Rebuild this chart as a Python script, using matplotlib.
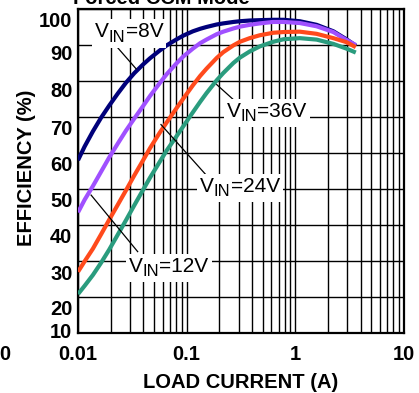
import numpy as np
import matplotlib
matplotlib.use("Agg")
import matplotlib.pyplot as plt
import matplotlib.transforms as mtransforms
from matplotlib.patches import Rectangle
from matplotlib.ticker import FixedLocator, NullFormatter

plt.rcParams["font.family"] = ["Liberation Sans", "DejaVu Sans"]

# load current (A) sample points
current = [0.01, 0.0115, 0.0137, 0.0163, 0.0194, 0.0232, 0.0276, 0.033, 0.0394,
           0.0459, 0.0561, 0.0655, 0.08, 0.093, 0.114, 0.133, 0.152, 0.189,
           0.217, 0.269, 0.309, 0.38, 0.47, 0.626, 0.78, 1.1, 1.57, 2.24,
           2.95, 3.6]

eff_8v = [58.0, 61.8, 66.0, 69.8, 73.2, 76.5, 79.5, 82.2, 84.5,
          86.3, 88.4, 89.9, 91.5, 92.6, 93.8, 94.5, 95.0, 95.7,
          96.0, 96.4, 96.6, 96.8, 96.9, 97.0, 97.0, 96.6, 95.6, 93.8,
          91.6, 89.8]
eff_12v = [43.5, 47.0, 50.8, 54.8, 58.8, 62.6, 66.2, 69.6, 72.9,
           75.8, 79.3, 81.9, 84.8, 86.8, 89.0, 90.5, 91.5, 93.0,
           93.7, 94.6, 95.1, 95.6, 96.0, 96.4, 96.4, 96.1, 95.2, 93.6,
           91.4, 90.0]
eff_24v = [27.0, 29.9, 33.4, 37.4, 41.5, 45.6, 49.6, 53.8, 57.8,
           61.3, 65.5, 68.5, 72.3, 75.1, 78.8, 81.4, 83.4, 86.4,
           88.0, 89.9, 90.9, 91.9, 92.7, 93.4, 93.6, 93.7, 93.1, 91.9,
           90.8, 89.4]
eff_36v = [20.8, 23.1, 26.1, 29.5, 33.2, 37.3, 41.3, 45.5, 49.6,
           53.1, 57.4, 60.7, 64.5, 67.4, 71.3, 74.2, 76.6, 80.2,
           82.2, 85.0, 86.5, 88.2, 89.6, 90.9, 91.6, 91.9, 91.5, 90.3,
           89.0, 87.9]

x_ticks = [0.01, 0.1, 1, 10]
x_labels = ["0.01", "0.1", "1", "10"]
y_grid = [10, 20, 30, 40, 50, 60, 70, 80, 90, 100]
y_labels = ["10", "20", "30", "40", "50", "60", "70", "80", "90", "100"]
# the labels in the original sit a little below their grid lines
y_label_pos = [10.6, 17.1, 26.8, 37.1, 47.2, 57.1, 67.2, 77.5, 87.9, 97.0]

fig = plt.figure(figsize=(4.19, 3.93), dpi=100)
ax = fig.add_axes([0.1862, 0.1527, 0.778, 0.8244])

line_kw = dict(lw=3.0, zorder=4, solid_joinstyle="round", solid_capstyle="butt")
ax.plot(current, eff_8v, color="#00007a", **line_kw)
ax.plot(current, eff_12v, color="#a050ff", **line_kw)
ax.plot(current, eff_24v, color="#ff4a1c", **line_kw)
ax.plot(current, eff_36v, color="#2a9c7e", **line_kw)

ax.set_xscale("log")
ax.set_xlim(0.01, 10)
ax.set_ylim(10, 100)

ax.set_xticks(x_ticks)
ax.set_xticklabels(x_labels)
ax.xaxis.set_minor_locator(FixedLocator(
    [m * 10.0 ** e for e in (-2, -1, 0) for m in range(2, 10)]))
ax.xaxis.set_minor_formatter(NullFormatter())
ax.set_yticks(y_label_pos)
ax.set_yticklabels(y_labels)
ax.yaxis.set_minor_locator(FixedLocator(y_grid))

ax.tick_params(which="both", length=0)
ax.tick_params(axis="x", pad=9, labelsize=14.5)
ax.tick_params(axis="y", pad=4, labelsize=14.5)
for lab in ax.get_xticklabels() + ax.get_yticklabels():
    lab.set_fontweight("bold")

ax.grid(True, axis="x", which="both", color="black", lw=1.0, zorder=1)
ax.grid(True, axis="y", which="minor", color="black", lw=1.0, zorder=1)
ax.grid(False, axis="y", which="major")
ax.set_axisbelow(True)
for s in ax.spines.values():
    s.set_linewidth(1.6)

ax.set_xlabel("LOAD CURRENT (A)", fontsize=14.5, fontweight="bold", labelpad=6)
ax.set_ylabel("EFFICIENCY (%)", fontsize=14.5, fontweight="bold")
ax.yaxis.set_label_coords(-0.128, 0.509)

fig.text(0.385, 0.99, "Forced CCM Mode", fontsize=14.5, fontweight="bold",
         ha="center", va="baseline")
fig.text(5 / 419, 1 - 355 / 393, "0", fontsize=14.5, fontweight="bold",
         ha="center", va="center")

renderer = fig.canvas.get_renderer()


def vin_label(x, y, volts, line_from, line_to):
    ax.plot([line_from[0], line_to[0]], [line_from[1], line_to[1]],
            color="black", lw=0.9, zorder=5)
    base = ax.transData
    t1 = ax.text(x, y, "V", fontsize=15, ha="left", va="baseline", zorder=7)
    w1 = t1.get_window_extent(renderer).width
    t2 = ax.text(x, y, "IN", fontsize=12, ha="left", va="baseline", zorder=7,
                 transform=mtransforms.offset_copy(base, fig=fig, x=w1, y=-4.5,
                                                   units="dots"))
    w2 = t2.get_window_extent(renderer).width
    t3 = ax.text(x, y, "=" + volts, fontsize=15, ha="left", va="baseline",
                 zorder=7,
                 transform=mtransforms.offset_copy(base, fig=fig, x=w1 + w2,
                                                   y=0, units="dots"))
    bb = mtransforms.Bbox.union([t.get_window_extent(renderer)
                                 for t in (t1, t2, t3)])
    pad = 3
    ax.add_patch(Rectangle((bb.x0 - pad, bb.y0 - pad), bb.width + 2 * pad,
                           bb.height + 2 * pad, facecolor="white",
                           edgecolor="none", zorder=6,
                           transform=mtransforms.IdentityTransform()))


vin_label(0.01434, 92.2, "8V", (0.0216, 90.3), (0.0342, 83.4))
vin_label(0.235, 70.1, "36V", (0.279, 74.4), (0.189, 79.0))
vin_label(0.1327, 49.25, "24V", (0.154, 53.6), (0.058, 67.9))
vin_label(0.0294, 27.0, "12V", (0.0354, 32.6), (0.0132, 48.3))

fig.savefig("out.png", dpi=100)
